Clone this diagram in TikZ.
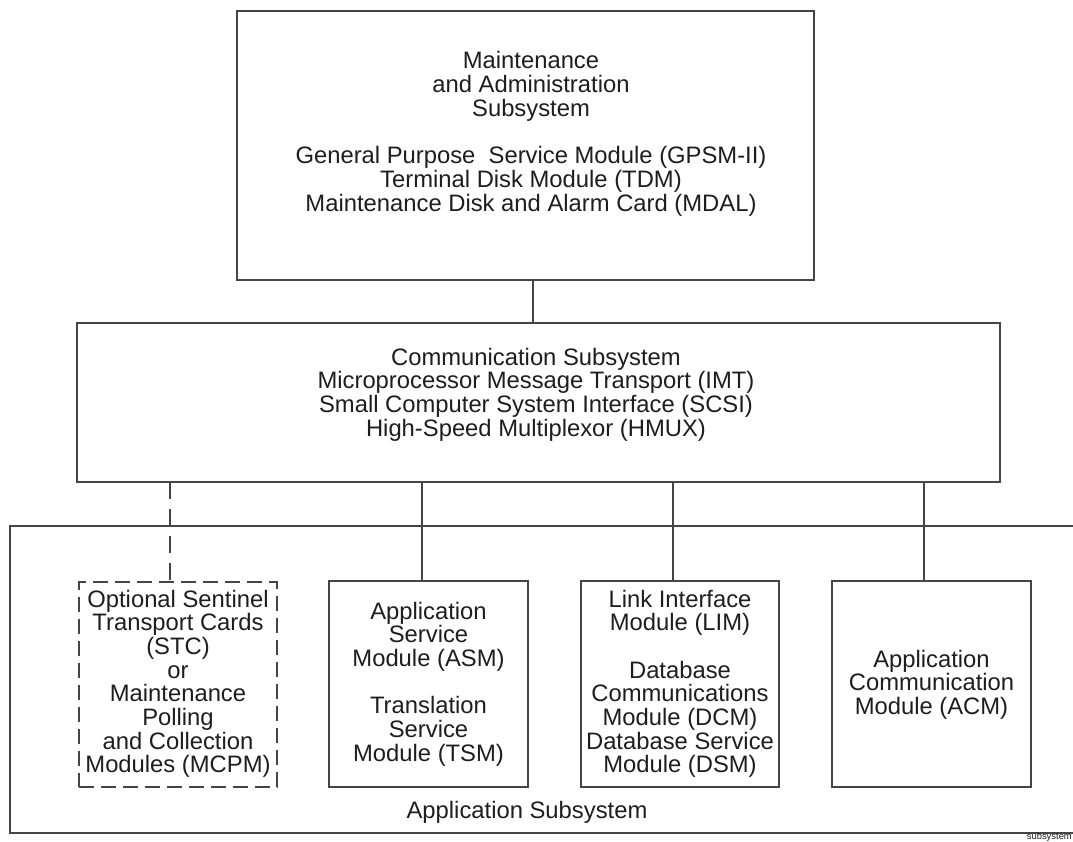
\documentclass[tikz,border=0pt]{standalone}
\usepackage{fontspec}
\setmainfont{Liberation Sans}
\newcommand\stacklines[1]{\vtop{\baselineskip=23.7pt\lineskiplimit=-10pt\halign{\hfil##\hfil\cr #1\crcr}}}
\definecolor{linecol}{HTML}{454545}
\definecolor{txtcol}{HTML}{1E1E1E}
\begin{document}
\begin{tikzpicture}[x=1pt,y=-1pt,
  box/.style={draw=linecol, line width=1.3pt, rectangle, inner sep=0pt, outer sep=0pt},
  dashbox/.style={box, dash pattern=on 15pt off 7pt},
  txt/.style={text=txtcol, inner sep=0pt, anchor=base, font=\fontsize{23.8}{23.7}\selectfont},
  conn/.style={draw=linecol, line width=1.2pt},
  dashconn/.style={conn, dash pattern=on 17pt off 10pt}]
\useasboundingbox[fill=white] (0,0) rectangle (1073,842);

% boxes
\node[box, minimum width=577pt, minimum height=269pt] (top) at (525.5,145.5) {};
\node[box, minimum width=923pt, minimum height=159pt] (comm) at (538.5,402.5) {};
\node[dashbox, minimum width=198pt, minimum height=205pt] (stc) at (178,684.5) {};
\node[box, minimum width=199pt, minimum height=206pt] (asm) at (428.5,684) {};
\node[box, minimum width=198pt, minimum height=206pt] (lim) at (680,684) {};
\node[box, minimum width=199pt, minimum height=206pt] (acm) at (931.5,684) {};

% application subsystem frame (open to the right)
\draw[conn, line width=1.3pt] (1073,526) -- (10,526) -- (10,833) -- (1073,833);

% texts
\node[txt] (toptext) at (531,69) {\stacklines{Maintenance\cr and Administration\cr Subsystem\cr \cr General Purpose\ \ Service Module (GPSM-II)\cr Terminal Disk Module (TDM)\cr Maintenance Disk and Alarm Card (MDAL)}};
\node[txt] (commtext) at (536,365) {\stacklines{Communication Subsystem\cr Microprocessor Message Transport (IMT)\cr Small Computer System Interface (SCSI)\cr High-Speed Multiplexor (HMUX)}};
\node[txt] (stctext) at (178,607) {\stacklines{Optional Sentinel\cr Transport Cards\cr (STC)\cr or\cr Maintenance\cr Polling\cr and Collection\cr Modules (MCPM)}};
\node[txt] (asmtext) at (428.5,619) {\stacklines{Application\cr Service\cr Module (ASM)\cr \cr Translation\cr Service\cr Module (TSM)}};
\node[txt] (limtext) at (680,607) {\stacklines{Link Interface\cr Module (LIM)\cr \cr Database\cr Communications\cr Module (DCM)\cr Database Service\cr Module (DSM)}};
\node[txt] (acmtext) at (931.5,667) {\stacklines{Application\cr Communication\cr Module (ACM)}};
\node[txt] (apptext) at (527,818) {Application Subsystem};
\node[text=txtcol, inner sep=0pt, anchor=base east, font=\fontsize{9.4}{10}\selectfont] (tag) at (1072,839) {subsystem};

% connectors
\draw[conn] ([xshift=7.5pt]top.south) -- ([xshift=7.5pt]top.south |- comm.north);
\draw[dashconn] ([xshift=-8pt]stc.north |- comm.south) -- ([xshift=-8pt]stc.north);
\draw[conn] ([xshift=-6.5pt]asm.north |- comm.south) -- ([xshift=-6.5pt]asm.north);
\draw[conn] ([xshift=-7pt]lim.north |- comm.south) -- ([xshift=-7pt]lim.north);
\draw[conn] ([xshift=-7.5pt]acm.north |- comm.south) -- ([xshift=-7.5pt]acm.north);
\end{tikzpicture}
\end{document}
